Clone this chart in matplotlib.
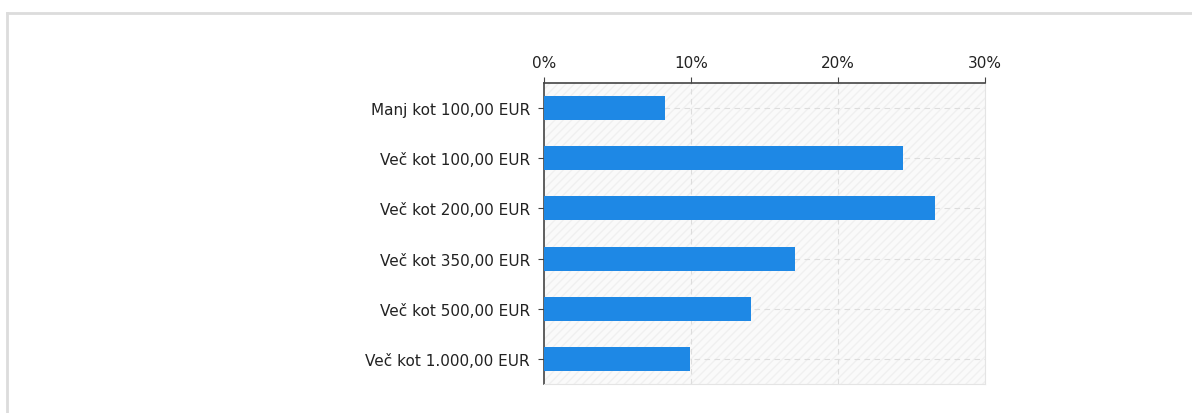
import matplotlib.pyplot as plt
from matplotlib.patches import Rectangle
import numpy as np

categories = ["Manj kot 100,00 EUR", "Več kot 100,00 EUR", "Več kot 200,00 EUR",
              "Več kot 350,00 EUR", "Več kot 500,00 EUR", "Več kot 1.000,00 EUR"]
values = [8.2, 24.4, 26.6, 17.1, 14.1, 9.9]
xticks = [0, 10, 20, 30]
xtick_labels = ["0%", "10%", "20%", "30%"]

fig = plt.figure(figsize=(11.92, 4.14), dpi=100)

# light outer frame (top and left edges visible)
fig.add_artist(plt.Line2D([7/1192, 1], [1-13.5/414, 1-13.5/414], color="#dcdcdc", lw=2))
fig.add_artist(plt.Line2D([7/1192, 7/1192], [0, 1-13.5/414], color="#dcdcdc", lw=2))

ax = fig.add_axes([544/1192, 1-385/414, 441/1192, 301/414])

# hatched background
ax.patch.set_facecolor("#fafafa")
bg = Rectangle((0, 0), 1, 1, transform=ax.transAxes, facecolor="none",
               edgecolor="#f0f0f0", hatch="////", lw=0, zorder=0)
ax.add_patch(bg)

y = np.arange(len(categories))
for yy in y:
    ax.axhline(yy, color="#dddddd", lw=0.8, ls=(0, (5, 4)), zorder=1)
for xx in xticks[1:-1]:
    ax.axvline(xx, color="#dddddd", lw=0.8, ls=(0, (5, 4)), zorder=1)

ax.barh(y, values, height=0.48, color="#1e88e5", zorder=3)

ax.set_xlim(0, 30)
ax.set_ylim(len(categories) - 0.5, -0.5)
ax.set_yticks(y)
ax.set_yticklabels(categories, fontsize=11, color="#222222")
ax.xaxis.tick_top()
ax.set_xticks(xticks)
ax.set_xticklabels(xtick_labels, fontsize=11, color="#222222")
ax.tick_params(axis="x", length=4, color="#444444", pad=5)
ax.tick_params(axis="y", length=4, color="#444444", pad=6)

ax.spines["bottom"].set_color("#e4e4e4")
ax.spines["right"].set_color("#e4e4e4")
ax.spines["top"].set_color("#444444")
ax.spines["left"].set_color("#444444")
ax.spines["top"].set_linewidth(1.2)
ax.spines["left"].set_linewidth(1.2)

fig.savefig("out.png", dpi=100)
